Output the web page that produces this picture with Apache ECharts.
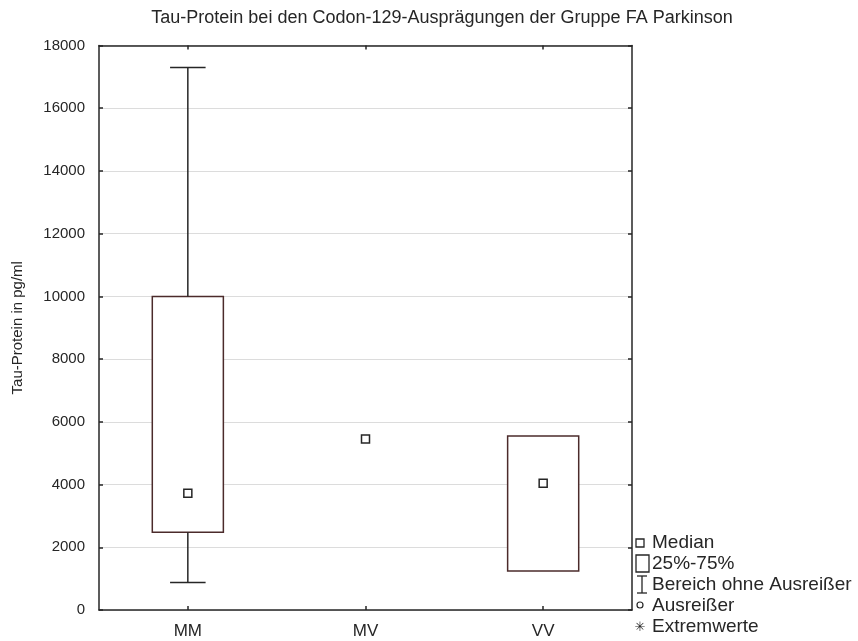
<!DOCTYPE html>
<html>
<head>
<meta charset="utf-8">
<script src="https://cdn.jsdelivr.net/npm/echarts@6/dist/echarts.min.js"></script>
<style>
  html, body { margin: 0; padding: 0; background: #ffffff; }
  #chart { width: 858px; height: 641px; }
</style>
</head>
<body>
<div id="chart"></div>
<script>
// Tau-Protein per codon-129 genotype, group FA Parkinson
const categories = ['MM', 'MV', 'VV'];
const minVals    = [880,   5450, 1240];
const q1Vals     = [2480,  5450, 1240];
const medians    = [3720,  5450, 4040];
const q3Vals     = [10000, 5450, 5550];
const maxVals    = [17300, 5450, 5550];
const yTicks     = [0, 2000, 4000, 6000, 8000, 10000, 12000, 14000, 16000, 18000];

const FONT = '"Liberation Sans", Arial, sans-serif';
const INK = '#262626';
const BOX_EDGE = '#4b2b2b';

const boxData = categories.map((c, i) => [i, minVals[i], q1Vals[i], medians[i], q3Vals[i], maxVals[i]]);

function renderBox(params, api) {
  const idx = api.value(0);
  const lo = api.coord([idx, api.value(1)]);
  const q1 = api.coord([idx, api.value(2)]);
  const md = api.coord([idx, api.value(3)]);
  const q3 = api.coord([idx, api.value(4)]);
  const hi = api.coord([idx, api.value(5)]);
  const bandW = api.size([1, 0])[0];
  const boxW = bandW * 0.4;
  const capW = boxW * 0.5;
  const x = md[0];
  const children = [];
  const lineStyle = { stroke: INK, lineWidth: 1.5, fill: null };

  if (api.value(4) > api.value(2)) {
    children.push({
      type: 'rect',
      shape: { x: x - boxW / 2, y: q3[1], width: boxW, height: q1[1] - q3[1] },
      style: { stroke: BOX_EDGE, lineWidth: 1.5, fill: '#ffffff' }
    });
  }
  if (api.value(5) > api.value(4)) {
    children.push({ type: 'line', shape: { x1: x, y1: q3[1], x2: x, y2: hi[1] }, style: lineStyle });
    children.push({ type: 'line', shape: { x1: x - capW / 2, y1: hi[1], x2: x + capW / 2, y2: hi[1] }, style: lineStyle });
  }
  if (api.value(1) < api.value(2)) {
    children.push({ type: 'line', shape: { x1: x, y1: q1[1], x2: x, y2: lo[1] }, style: lineStyle });
    children.push({ type: 'line', shape: { x1: x - capW / 2, y1: lo[1], x2: x + capW / 2, y2: lo[1] }, style: lineStyle });
  }
  children.push({
    type: 'rect',
    shape: { x: x - 4, y: md[1] - 4, width: 8, height: 8 },
    style: { stroke: INK, lineWidth: 1.5, fill: '#ffffff' }
  });
  return { type: 'group', children: children };
}

const chart = echarts.init(document.getElementById('chart'), null, { renderer: 'canvas' });

const axisLine = { show: true, onZero: false, lineStyle: { color: INK, width: 1.5 } };
const innerTick = { show: true, inside: true, length: 4, lineStyle: { color: INK, width: 1.5 } };

// legend keys drawn beside the plot frame
const legendX = 636;
const legendText = (y, text) => ({
  type: 'text', x: 652, y: y,
  style: { text: text, font: '19px ' + FONT, fill: INK, verticalAlign: 'middle', align: 'left' }
});

chart.setOption({
  animation: false,
  backgroundColor: '#ffffff',
  title: {
    text: 'Tau-Protein bei den Codon-129-Ausprägungen der Gruppe FA Parkinson',
    left: 437, top: 4, textAlign: 'center',
    textStyle: { fontFamily: FONT, fontSize: 18, fontWeight: 'normal', color: INK }
  },
  grid: { left: 99, right: 226, top: 45.5, bottom: 31, containLabel: false },
  xAxis: [
    {
      type: 'category', data: categories, position: 'bottom',
      axisLine: axisLine, axisTick: Object.assign({ alignWithLabel: true }, innerTick),
      axisLabel: { fontFamily: FONT, fontSize: 17, color: INK, margin: 13 },
      splitLine: { show: false }
    },
    {
      type: 'category', data: categories, position: 'top',
      axisLine: axisLine, axisTick: Object.assign({ alignWithLabel: true }, innerTick),
      axisLabel: { show: false }, splitLine: { show: false }
    }
  ],
  yAxis: [
    {
      type: 'value', min: 0, max: 18000, interval: 2000, position: 'left',
      name: 'Tau-Protein in pg/ml', nameLocation: 'middle', nameGap: 74, nameRotate: 90,
      nameTextStyle: { fontFamily: FONT, fontSize: 15, color: INK },
      axisLine: axisLine, axisTick: innerTick,
      axisLabel: { fontFamily: FONT, fontSize: 15, color: INK, margin: 14,
                   formatter: v => (yTicks.indexOf(v) >= 0 ? String(v) : '') },
      splitLine: { show: true, lineStyle: { color: '#dcdcdc', width: 1.2 } }
    },
    {
      type: 'value', min: 0, max: 18000, interval: 2000, position: 'right',
      axisLine: axisLine, axisTick: innerTick,
      axisLabel: { show: false }, splitLine: { show: false }
    }
  ],
  series: [{
    type: 'custom',
    xAxisIndex: 0, yAxisIndex: 0,
    renderItem: renderBox,
    data: boxData,
    encode: { x: 0, y: [1, 2, 3, 4, 5] },
    z: 5
  }],
  graphic: [
    { type: 'rect', shape: { x: legendX, y: 539, width: 8, height: 8 },
      style: { stroke: INK, lineWidth: 1.3, fill: '#fff' } },
    legendText(543, 'Median'),
    { type: 'rect', shape: { x: legendX, y: 555, width: 13, height: 17 },
      style: { stroke: INK, lineWidth: 1.3, fill: '#fff' } },
    legendText(564, '25%-75%'),
    { type: 'line', shape: { x1: legendX + 6, y1: 576, x2: legendX + 6, y2: 593 },
      style: { stroke: INK, lineWidth: 1.3 } },
    { type: 'line', shape: { x1: legendX + 1, y1: 576, x2: legendX + 11, y2: 576 },
      style: { stroke: INK, lineWidth: 1.3 } },
    { type: 'line', shape: { x1: legendX + 1, y1: 593, x2: legendX + 11, y2: 593 },
      style: { stroke: INK, lineWidth: 1.3 } },
    legendText(585, 'Bereich ohne Ausreißer'),
    { type: 'circle', shape: { cx: legendX + 4, cy: 605, r: 3 },
      style: { stroke: INK, lineWidth: 1.2, fill: '#fff' } },
    legendText(606, 'Ausreißer'),
    { type: 'text', x: legendX + 4, y: 628,
      style: { text: '✳', font: '13px DejaVu Sans', fill: INK, verticalAlign: 'middle', align: 'center' } },
    legendText(627, 'Extremwerte')
  ]
});
</script>
</body>
</html>
